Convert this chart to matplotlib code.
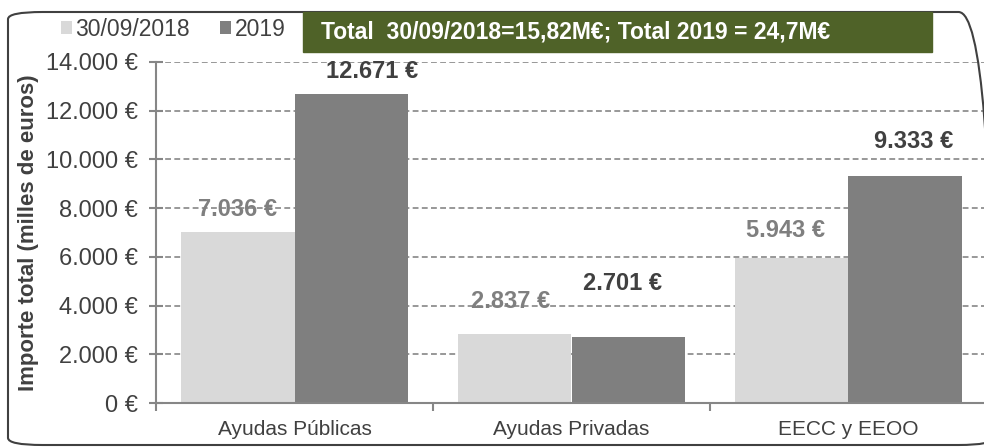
import numpy as np
import matplotlib
matplotlib.use("Agg")
import matplotlib.pyplot as plt
from matplotlib.patches import FancyBboxPatch, Rectangle
from matplotlib.ticker import FuncFormatter

plt.rcParams['font.family'] = ['Liberation Sans', 'DejaVu Sans']

# datos
categorias = ["Ayudas Públicas", "Ayudas Privadas", "EECC y EEOO"]
serie_2018 = [7036, 2837, 5943]
serie_2019 = [12671, 2701, 9333]
nombres = ["30/09/2018", "2019"]
titulo = "Total  30/09/2018=15,82M€; Total 2019 = 24,7M€"
ylabel = "Importe total (milles de euros)"

# desplazamientos manuales de las etiquetas (pixeles)
off_2018 = [(0, 22), (-4, 32), (-6, 28)]
off_2019 = [(21, 23), (-6, 54), (8, 34)]

c_claro = "#d9d9d9"
c_oscuro = "#7f7f7f"
c_texto = "#404040"
c_eje = "#868686"

fig = plt.figure(figsize=(9.84, 4.48), dpi=100)
ax = fig.add_axes([156/984, 1 - 403/448, 831/984, 341/448])

x = np.arange(len(categorias))
w = 0.41
b1 = ax.bar(x - w/2, serie_2018, w, color=c_claro, label=nombres[0], zorder=2)
b2 = ax.bar(x + w/2, serie_2019, w, color=c_oscuro, label=nombres[1], zorder=2)

def fmt_euro(v):
    return f"{v:,.0f}".replace(",", ".") + " €"

for i in range(len(categorias)):
    ax.annotate(fmt_euro(serie_2018[i]), (x[i] - w/2, serie_2018[i]),
                xytext=off_2018[i], textcoords="offset pixels",
                ha="center", va="center", fontsize=17, fontweight="bold",
                color=c_oscuro, zorder=3)
    ax.annotate(fmt_euro(serie_2019[i]), (x[i] + w/2, serie_2019[i]),
                xytext=off_2019[i], textcoords="offset pixels",
                ha="center", va="center", fontsize=17, fontweight="bold",
                color=c_texto, zorder=3)

ax.set_xlim(-0.5, 2.5)
ax.set_ylim(0, 14000)
ax.set_yticks(np.arange(0, 14001, 2000))
ax.yaxis.set_major_formatter(FuncFormatter(lambda v, p: fmt_euro(v)))
ax.set_xticks(x)
ax.set_xticklabels(categorias)
ax.set_xticks([-0.5, 0.5, 1.5, 2.5], minor=True)
ax.tick_params(axis="x", which="major", length=0, pad=12, labelsize=15, labelcolor=c_texto)
ax.tick_params(axis="x", which="minor", length=6, color=c_eje, width=1.5, direction="out")
ax.tick_params(axis="y", length=10, direction="inout", color=c_eje, width=1.5,
               labelsize=17, labelcolor=c_texto, pad=8)

for s in ["top", "right"]:
    ax.spines[s].set_visible(False)
for s in ["left", "bottom"]:
    ax.spines[s].set_color(c_eje)
    ax.spines[s].set_linewidth(1.5)

ax.yaxis.grid(True, linestyle=(0, (3.5, 2)), color=c_eje, linewidth=1.2, zorder=0)
ax.set_axisbelow(True)

ax.set_ylabel(ylabel, fontsize=16, fontweight="bold", color=c_texto)
ax.yaxis.set_label_coords(-0.141, 0.5)

# leyenda
fig.legend(handles=[b1, b2], labels=nombres, loc="center left",
           bbox_to_anchor=(40/984, 1 - 29/448), ncol=2, frameon=False,
           handlelength=0.5, handleheight=0.5, handletextpad=0.15,
           columnspacing=1.3, fontsize=16.5, labelcolor=c_texto)

# caja del titulo
fig.patches.append(Rectangle((303/984, 1 - 52/448), 629/984, 40/448,
                             transform=fig.transFigure, color="#4f6228", zorder=5))
fig.text(321/984, 1 - 32/448, titulo, color="white", fontsize=16.5,
         fontweight="bold", va="center", ha="left", zorder=6)

# marco redondeado
fig.patches.append(FancyBboxPatch((8/984, 3/448), 985/984, 433/448,
                                  boxstyle="round,pad=0,rounding_size=0.035",
                                  transform=fig.transFigure, fill=False,
                                  edgecolor=c_texto, linewidth=1.5,
                                  mutation_aspect=448/984, zorder=4))

fig.savefig("out.png", dpi=100)
